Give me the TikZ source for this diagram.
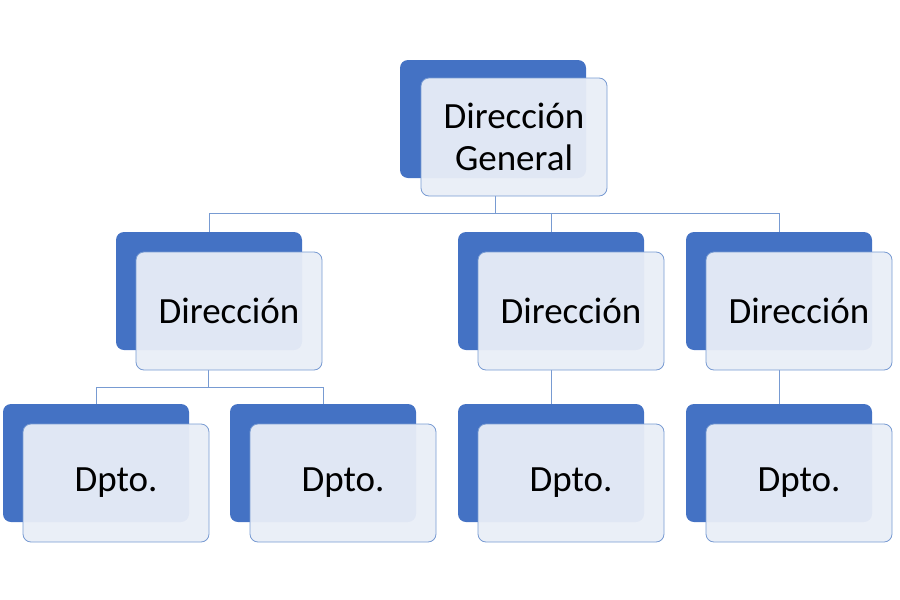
\documentclass[tikz,border=0pt]{standalone}
\usepackage{fontspec}
\setmainfont{Carlito}
\usepackage{xcolor}
\definecolor{blue-700}{RGB}{68,114,196}
\definecolor{blue-400}{RGB}{120,155,210}
\definecolor{blue-50}{RGB}{233,238,247}
\usetikzlibrary{positioning,backgrounds}

\begin{document}
\begin{tikzpicture}[
    x=1pt, y=-1pt,
    back box/.style={
        rounded corners=8pt,
        fill=blue-700,
        minimum width=186pt,
        minimum height=118pt
    },
    front box/.style={
        rounded corners=8pt,
        draw=blue-400,
        line width=0.8pt,
        fill=blue-50,
        fill opacity=0.95,
        text opacity=1,
        minimum width=186pt,
        minimum height=118pt,
        inner sep=0pt,
        font=\fontsize{37}{42}\selectfont,
        align=center
    },
    link/.style={draw=blue-400, line width=0.8pt}
]
\useasboundingbox (0,0) rectangle (900,600);

% === DIRECCION GENERAL ===
\node[back box] (genback) at (493,119) {};
\node[front box] (gen) at (514,137) {Dirección\\General};

% === DIRECCIONES ===
\node[back box] (dir1back) at (209,291) {};
\node[front box] (dir1) at (229,311) {Dirección};
\node[back box] (dir2back) at (551,291) {};
\node[front box] (dir2) at (571,311) {Dirección};
\node[back box] (dir3back) at (779,291) {};
\node[front box] (dir3) at (799,311) {Dirección};

% === DEPARTAMENTOS ===
\node[back box] (dep1back) at (96,463) {};
\node[front box] (dep1) at (116,483) {Dpto.};
\node[back box] (dep2back) at (323,463) {};
\node[front box] (dep2) at (343,483) {Dpto.};
\node[back box] (dep3back) at (551,463) {};
\node[front box] (dep3) at (571,483) {Dpto.};
\node[back box] (dep4back) at (779,463) {};
\node[front box] (dep4) at (799,483) {Dpto.};

% === CONECTORES (behind the boxes) ===
\begin{scope}[on background layer]
\coordinate (genbus) at (495,213);
\draw[link] (gen.south -| genbus) -- (genbus);
\draw[link] (genbus) -| (dir1back.north);
\draw[link] (genbus) -| (dir2back.north);
\draw[link] (genbus) -| (dir3back.north);

\coordinate (dirbus) at (208,387);
\draw[link] (dir1.south -| dirbus) -- (dirbus);
\draw[link] (dirbus) -| (dep1back.north);
\draw[link] (dirbus) -| (dep2back.north);
\draw[link] (dir2.south -| dep3back) -- (dep3back.north);
\draw[link] (dir3.south -| dep4back) -- (dep4back.north);
\end{scope}
\end{tikzpicture}
\end{document}
